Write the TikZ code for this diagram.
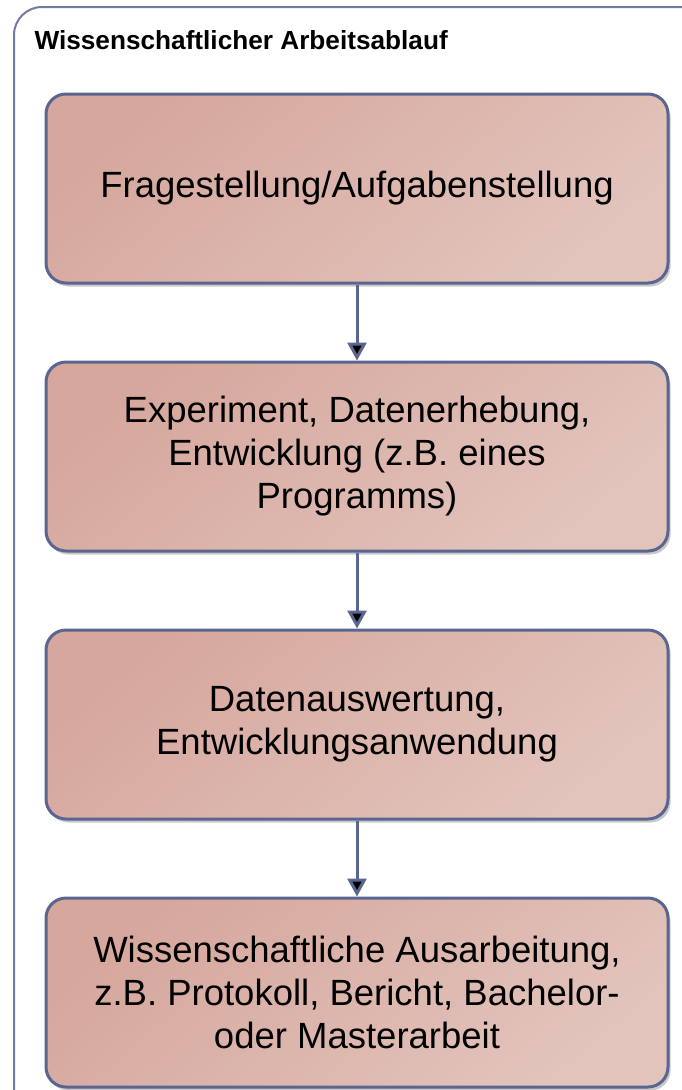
\documentclass[tikz,border=0pt]{standalone}
\usepackage{fontspec}
\setmainfont{Liberation Sans}
\usetikzlibrary{positioning,shadows,arrows.meta}

\definecolor{rahmen}{HTML}{717CA2}
\definecolor{kante}{HTML}{5A6590}
\definecolor{fuellA}{HTML}{D6A79D}
\definecolor{fuellB}{HTML}{E2C4BC}

\begin{document}
\begin{tikzpicture}[x=1pt,y=1pt,node distance=76pt,
    schritt/.style={draw=kante,line width=3pt,rounded corners=20pt,
      top color=fuellA,bottom color=fuellB,shading angle=40,
      minimum width=622pt,minimum height=189pt,align=center,
      font=\fontsize{36.5}{43}\selectfont,
      drop shadow={shadow xshift=2.5pt,shadow yshift=-3.5pt,opacity=0.3,fill=black!70}},
    pfeil/.style={draw=kante,line width=3pt,-{Triangle[length=18pt,width=19pt]}}]
   \useasboundingbox (0,0) rectangle (682,-1090);
   \begin{scope}
     \clip (0,0) rectangle (682,-1090);
     \draw[rahmen,line width=2pt,rounded corners=28pt] (14,-7) rectangle (710,-1120);
   \end{scope}
   \node[anchor=west,font=\fontsize{26.2}{30}\selectfont\bfseries] (titel) at (31,-40) {Wissenschaftlicher Arbeitsablauf};
   \node[schritt] (frage) at (357,-188.5) {Fragestellung/Aufgabenstellung};
   \node[schritt] (experiment) [below=of frage] {Experiment, Datenerhebung,\\Entwicklung (z.B. eines\\Programms)};
   \node[schritt] (auswertung) [below=of experiment] {Datenauswertung,\\Entwicklungsanwendung};
   \node[schritt] (arbeit) [below=of auswertung] {Wissenschaftliche Ausarbeitung,\\z.B. Protokoll, Bericht, Bachelor-\\oder Masterarbeit};
   \path[pfeil]
    (frage)      edge (experiment)
    (experiment) edge (auswertung)
    (auswertung) edge (arbeit);
\end{tikzpicture}
\end{document}
